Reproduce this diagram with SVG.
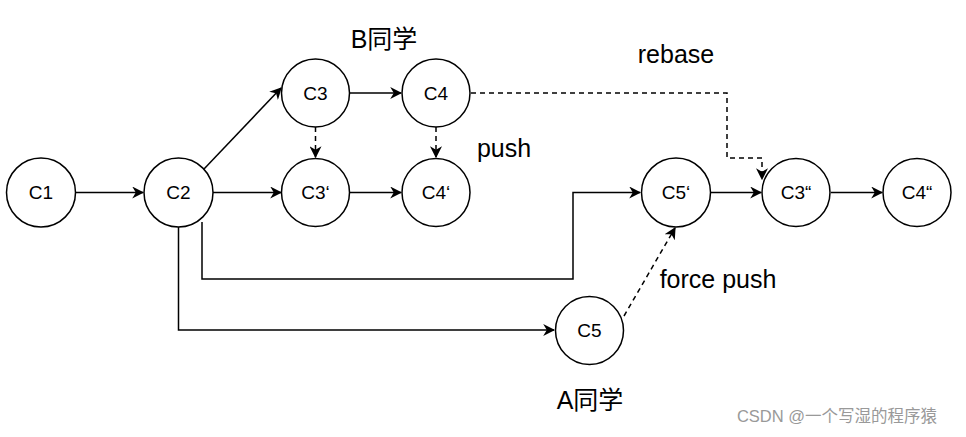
<svg xmlns="http://www.w3.org/2000/svg" width="966" height="437" viewBox="0 0 966 437">
<style>
.n{fill:#fff;stroke:#000;stroke-width:1.5}
.t{font-family:"Liberation Sans","Noto Sans CJK SC",sans-serif;font-size:19px;text-anchor:middle;fill:#000}
.l{font-family:"Liberation Sans","Noto Sans CJK SC",sans-serif;font-size:25px;text-anchor:middle;fill:#000}
.c{fill:none;stroke:#000;stroke-width:1.5}
.d{stroke-dasharray:5 4}
</style>
<defs>
<marker id="a" viewBox="0 0 10 10" refX="9" refY="5" markerWidth="12" markerHeight="12" markerUnits="userSpaceOnUse" orient="auto">
<path d="M0,0 L10,5 L0,10 L3,5 Z" fill="#000"/>
</marker>
</defs>
<rect width="966" height="437" fill="#fff"/>
<g id="connectors">
<path class="c" d="M76,192.5 H143" marker-end="url(#a)"/>
<path class="c" d="M204,169 L281,88" marker-end="url(#a)"/>
<path class="c" d="M213,192.5 H281" marker-end="url(#a)"/>
<path class="c" d="M350,93 H401" marker-end="url(#a)"/>
<path class="c" d="M350,192.5 H401" marker-end="url(#a)"/>
<path class="c d" d="M315.5,127 V157" marker-end="url(#a)"/>
<path class="c d" d="M436,127 V157" marker-end="url(#a)"/>
<path class="c d" d="M471,93 H727 V158 H762 V179" marker-end="url(#a)"/>
<path class="c" d="M202,222 V279 H573 V192.5 H640" marker-end="url(#a)"/>
<path class="c" d="M178.5,227 V330 H554" marker-end="url(#a)"/>
<path class="c d" d="M624,316 L675,228" marker-end="url(#a)"/>
<path class="c" d="M711,192.5 H761" marker-end="url(#a)"/>
<path class="c" d="M831,192.5 H882" marker-end="url(#a)"/>
</g>
<g id="C1"><circle class="n" cx="41" cy="192.5" r="34.5"/><text class="t" x="41" y="199">C1</text></g>
<g id="C2"><circle class="n" cx="178.5" cy="192.5" r="34.5"/><text class="t" x="178.5" y="199">C2</text></g>
<g id="C3"><circle class="n" cx="315.5" cy="93" r="34"/><text class="t" x="315.5" y="99.5">C3</text></g>
<g id="C4"><circle class="n" cx="436" cy="93" r="34"/><text class="t" x="436" y="99.5">C4</text></g>
<g id="C3p"><circle class="n" cx="315.5" cy="192.5" r="34"/><text class="t" x="315.5" y="199">C3‘</text></g>
<g id="C4p"><circle class="n" cx="436" cy="192.5" r="34"/><text class="t" x="436" y="199">C4‘</text></g>
<g id="C5p"><circle class="n" cx="676" cy="192.5" r="34.5"/><text class="t" x="676" y="199">C5‘</text></g>
<g id="C3pp"><circle class="n" cx="796" cy="192.5" r="34"/><text class="t" x="796" y="199">C3“</text></g>
<g id="C4pp"><circle class="n" cx="917" cy="192.5" r="34"/><text class="t" x="917" y="199">C4“</text></g>
<g id="C5"><circle class="n" cx="589.5" cy="330.5" r="34"/><text class="t" x="589.5" y="337">C5</text></g>
<g id="labels">
<text class="l" x="384" y="48">B同学</text>
<text class="l" x="676" y="63">rebase</text>
<text class="l" x="504" y="157">push</text>
<text class="l" x="718" y="288">force push</text>
<text class="l" x="590" y="409">A同学</text>
<text x="837" y="422" font-family="'Liberation Sans','Noto Sans CJK SC',sans-serif" font-size="16.5" fill="#999" text-anchor="middle">CSDN @一个写湿的程序猿</text>
</g>
</svg>
